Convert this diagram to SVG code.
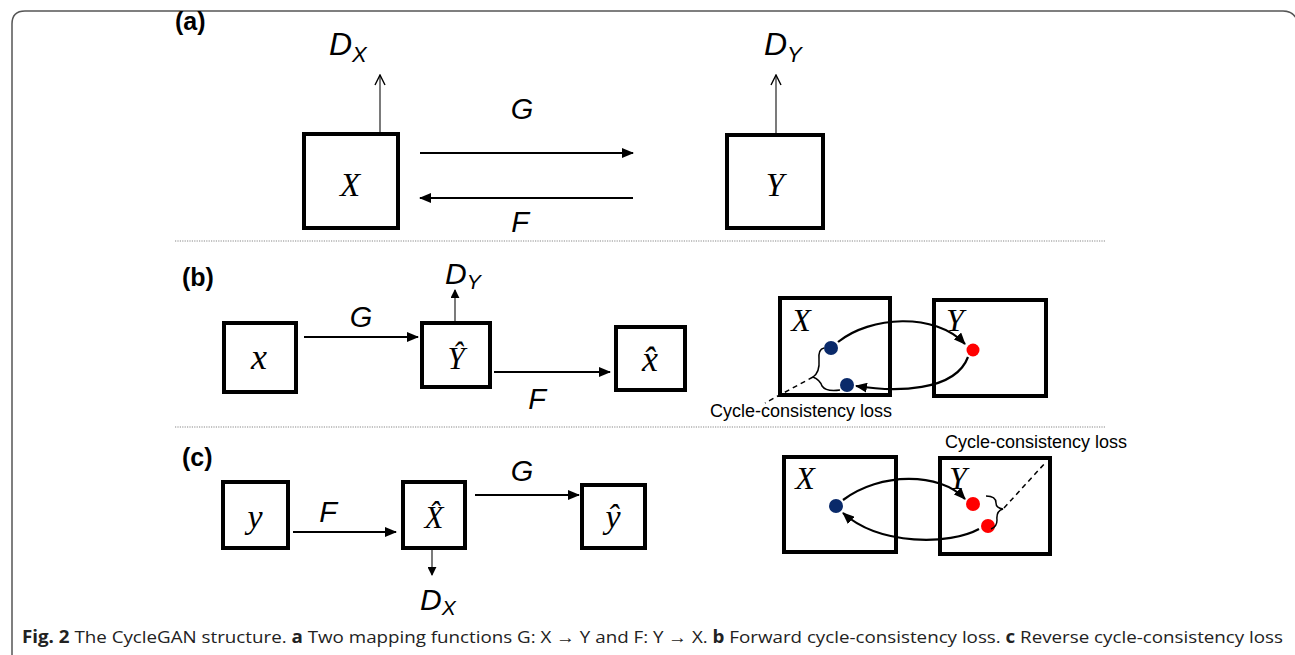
<svg xmlns="http://www.w3.org/2000/svg" width="1295" height="655" viewBox="0 0 1295 655">
<defs>
<marker id="tri" viewBox="0 0 12 10" refX="11" refY="5" markerWidth="12" markerHeight="10" markerUnits="userSpaceOnUse" orient="auto"><path d="M0,0 L12,5 L0,10 Z" fill="#000"/></marker>
<marker id="trismall" viewBox="0 0 10 10" refX="9" refY="5" markerWidth="9" markerHeight="9" markerUnits="userSpaceOnUse" orient="auto"><path d="M0,0 L10,5 L0,10 Z" fill="#000"/></marker>
<marker id="open" viewBox="0 0 12 12" refX="11" refY="6" markerWidth="12" markerHeight="12" markerUnits="userSpaceOnUse" orient="auto"><path d="M1,1 L11,6 L1,11" fill="none" stroke="#000" stroke-width="1.4"/></marker>
</defs>
<style>
.box{fill:#fff;stroke:#000;stroke-width:4}
.arr{fill:none;stroke:#000;stroke-width:2.2}
.thin{fill:none;stroke:#333;stroke-width:1.3}
.sep{stroke:#888;stroke-width:1.2;stroke-dasharray:1.2 1.2}
.panel{font-family:"Liberation Sans",Arial,sans-serif;font-weight:bold;font-size:25px}
.fn{font-family:"Liberation Sans",Arial,sans-serif;font-style:italic;fill:#000}
.var{font-family:"Liberation Serif","Times New Roman",serif;font-style:italic;fill:#000;text-anchor:middle}
.loss{font-family:"Liberation Sans",Arial,sans-serif;font-size:18px;fill:#000}
.cap{font-family:"Open Sans","Liberation Sans",sans-serif;font-size:17px;fill:#222}
.dash{fill:none;stroke:#000;stroke-width:1.5;stroke-dasharray:5 4}
</style>
<rect width="1295" height="655" fill="#fff"/>
<path d="M12,655 L12,24 Q12,11 25,11 L1283,11 Q1292,11 1296,18" fill="none" stroke="#555" stroke-width="1.5"/>

<g id="panel-labels">
<text class="panel" x="175" y="30">(a)</text>
<text class="panel" x="182" y="286">(b)</text>
<text class="panel" x="182" y="466">(c)</text>
</g>

<g id="separators">
<line class="sep" x1="175" y1="241" x2="1106" y2="241"/>
<line class="sep" x1="175" y1="427" x2="1106" y2="427"/>
</g>

<!-- Panel (a) -->
<g id="a-X"><rect class="box" x="304" y="134" width="94" height="94"/><text class="var" x="350" y="196" font-size="33">X</text></g>
<g id="a-Y"><rect class="box" x="727" y="135" width="96" height="93"/><text class="var" x="775" y="196" font-size="33">Y</text></g>
<g id="a-DX"><text class="fn" x="329" y="55" font-size="32">D<tspan font-size="22" dy="7">X</tspan></text></g>
<g id="a-DY"><text class="fn" x="764" y="55" font-size="32">D<tspan font-size="22" dy="7">Y</tspan></text></g>
<g id="a-G"><text class="fn" x="522" y="119" font-size="29" text-anchor="middle">G</text></g>
<g id="a-F"><text class="fn" x="520" y="232" font-size="29" text-anchor="middle">F</text></g>

<!-- Panel (b) -->
<g id="b-x"><rect class="box" x="224" y="323" width="72" height="69"/><text class="var" x="259" y="369" font-size="36">x</text></g>
<g id="b-Yhat"><rect class="box" x="422" y="323" width="68" height="64"/><text class="var" x="456" y="369" font-size="31">Ŷ</text></g>
<g id="b-xhat"><rect class="box" x="616" y="327" width="69" height="63"/><text class="var" x="650" y="371" font-size="36">x̂</text></g>
<g id="b-DY"><text class="fn" x="445" y="284" font-size="30">D<tspan font-size="21" dy="5">Y</tspan></text></g>
<g id="b-G"><text class="fn" x="361" y="327" font-size="29" text-anchor="middle">G</text></g>
<g id="b-F"><text class="fn" x="537" y="409" font-size="29" text-anchor="middle">F</text></g>
<g id="b-cycle">
<rect class="box" x="780" y="298" width="110" height="97"/>
<rect class="box" x="934" y="300" width="112" height="96"/>
<text class="var" x="801" y="331" font-size="32">X</text>
<text class="var" x="955" y="331" font-size="32">Y</text>
<circle cx="831" cy="348" r="7" fill="#0a2a6a"/>
<circle cx="847" cy="385" r="7" fill="#0a2a6a"/>
<circle cx="973" cy="350" r="6.5" fill="#f00"/>
<path d="M824,348 Q818,349 819,360 Q820,372 813,377 Q820,380 822,386 Q826,392 840,390" fill="none" stroke="#000" stroke-width="1.5"/>
<path class="dash" d="M813,377 L765,403"/>
<text class="loss" x="710" y="417">Cycle-consistency loss</text>
</g>

<!-- Panel (c) -->
<g id="c-y"><rect class="box" x="223" y="482" width="65" height="66"/><text class="var" x="255" y="528" font-size="34">y</text></g>
<g id="c-Xhat"><rect class="box" x="403" y="482" width="62" height="66"/><text class="var" x="434" y="528" font-size="31">X̂</text></g>
<g id="c-yhat"><rect class="box" x="582" y="485" width="63" height="63"/><text class="var" x="613" y="528" font-size="34">ŷ</text></g>
<g id="c-DX"><text class="fn" x="420" y="610" font-size="30">D<tspan font-size="21" dy="5">X</tspan></text></g>
<g id="c-F"><text class="fn" x="328" y="522" font-size="29" text-anchor="middle">F</text></g>
<g id="c-G"><text class="fn" x="522" y="481" font-size="29" text-anchor="middle">G</text></g>
<g id="c-cycle">
<rect class="box" x="784" y="457" width="112" height="95"/>
<rect class="box" x="940" y="458" width="110" height="96"/>
<text class="var" x="805" y="489" font-size="32">X</text>
<text class="var" x="958" y="489" font-size="32">Y</text>
<circle cx="836" cy="506" r="7" fill="#0a2a6a"/>
<circle cx="973" cy="504" r="7" fill="#f00"/>
<circle cx="988" cy="526" r="7" fill="#f00"/>
<path d="M986,496 Q996,496 996,503 Q996,508 1003,509 Q996,511 997,520 Q997,527 991,529" fill="none" stroke="#000" stroke-width="1.5"/>
<path class="dash" d="M1004,508 L1046,462"/>
<text class="loss" x="945" y="448">Cycle-consistency loss</text>
</g>

<g id="connectors">
<line class="thin" x1="380" y1="132" x2="380" y2="75" marker-end="url(#open)"/>
<line class="thin" x1="776" y1="133" x2="776" y2="75" marker-end="url(#open)"/>
<line class="arr" x1="420" y1="153" x2="633" y2="153" marker-end="url(#tri)"/>
<line class="arr" x1="633" y1="198" x2="420" y2="198" marker-end="url(#tri)"/>
<line class="arr" x1="304" y1="337" x2="418" y2="337" marker-end="url(#tri)"/>
<line class="thin" stroke="#777" x1="455" y1="321" x2="455" y2="290" marker-end="url(#trismall)"/>
<line class="arr" x1="494" y1="372" x2="610" y2="372" marker-end="url(#tri)"/>
<path class="arr" d="M838,342 C870,316 935,312 965,344" marker-end="url(#tri)"/>
<path class="arr" d="M968,357 C955,392 895,392 856,386" marker-end="url(#tri)"/>
<line class="arr" x1="293" y1="532" x2="396" y2="532" marker-end="url(#tri)"/>
<line class="thin" x1="432" y1="550" x2="432" y2="575" marker-end="url(#trismall)"/>
<line class="arr" x1="475" y1="495" x2="579" y2="495" marker-end="url(#tri)"/>
<path class="arr" d="M843,500 C880,472 940,472 965,499" marker-end="url(#tri)"/>
<path class="arr" d="M979,529 C950,545 880,546 843,513" marker-end="url(#tri)"/>
</g>

<g id="caption">
<text class="cap" x="22" y="643" textLength="1261" lengthAdjust="spacingAndGlyphs"><tspan font-weight="bold">Fig. 2</tspan>  The CycleGAN structure. <tspan font-weight="bold">a</tspan> Two mapping functions G: X → Y and F: Y → X. <tspan font-weight="bold">b</tspan> Forward cycle-consistency loss. <tspan font-weight="bold">c</tspan> Reverse cycle-consistency loss</text>
</g>
</svg>
